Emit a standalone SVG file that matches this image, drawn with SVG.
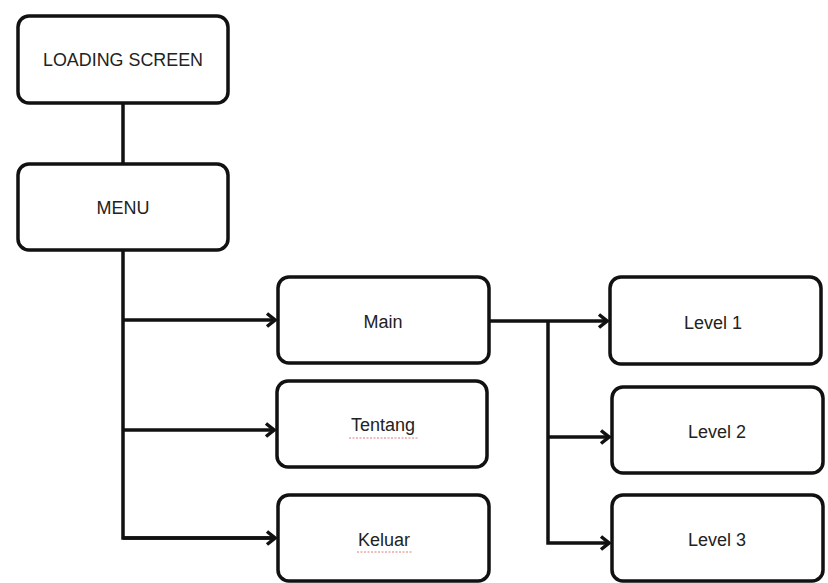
<svg xmlns="http://www.w3.org/2000/svg" width="828" height="583" viewBox="0 0 828 583">
<defs>
<style>
.box{fill:#fff;stroke:#111;stroke-width:3.5}
.lbl{font-family:"Liberation Sans",Arial,sans-serif;font-size:18px;fill:#222;text-anchor:middle}
.con{fill:none;stroke:#111;stroke-width:3.5}
.arr{marker-end:url(#ah)}
.sp{fill:none;stroke:#e07a7a;stroke-width:1;stroke-dasharray:2 1.5}
</style>
<marker id="ah" viewBox="0 0 12 16" refX="10" refY="8" markerWidth="12" markerHeight="16" markerUnits="userSpaceOnUse" orient="auto">
<path d="M2,1.5 L10,8 L2,14.5" fill="none" stroke="#111" stroke-width="3.5"/>
</marker>
</defs>
<rect width="828" height="583" fill="#fff"/>
<g id="connectors">
<line class="con" x1="123" y1="103" x2="123" y2="164"/>
<polyline class="con" points="123,250 123,538 272,538"/>
<line class="con arr" x1="123" y1="320" x2="275" y2="320"/>
<line class="con arr" x1="123" y1="430" x2="274" y2="430"/>
<line class="con arr" x1="123" y1="538" x2="275" y2="538"/>
<line class="con arr" x1="489" y1="321" x2="607" y2="321"/>
<polyline class="con arr" points="548,321 548,543 609,543"/>
<line class="con arr" x1="548" y1="437" x2="609" y2="437"/>
</g>
<g id="loading"><rect class="box" x="18" y="16" width="210" height="87" rx="11"/><text class="lbl" x="123" y="66" textLength="160" lengthAdjust="spacingAndGlyphs">LOADING SCREEN</text></g>
<g id="menu"><rect class="box" x="18" y="164" width="210" height="86" rx="11"/><text class="lbl" x="123" y="214">MENU</text></g>
<g id="main"><rect class="box" x="278" y="277" width="211" height="86" rx="11"/><text class="lbl" x="383" y="328">Main</text></g>
<g id="tentang"><rect class="box" x="277" y="381" width="210" height="86" rx="11"/><text class="lbl" x="383" y="431">Tentang</text><path class="sp" d="M349,438 L418,438"/></g>
<g id="keluar"><rect class="box" x="278" y="495" width="211" height="86" rx="11"/><text class="lbl" x="384" y="546">Keluar</text><path class="sp" d="M357,552 L412,552"/></g>
<g id="level1"><rect class="box" x="610" y="277" width="211" height="87" rx="11"/><text class="lbl" x="713" y="329">Level 1</text></g>
<g id="level2"><rect class="box" x="612" y="387" width="211" height="86" rx="11"/><text class="lbl" x="717" y="438">Level 2</text></g>
<g id="level3"><rect class="box" x="612" y="495" width="211" height="86" rx="11"/><text class="lbl" x="717" y="546">Level 3</text></g>
</svg>
